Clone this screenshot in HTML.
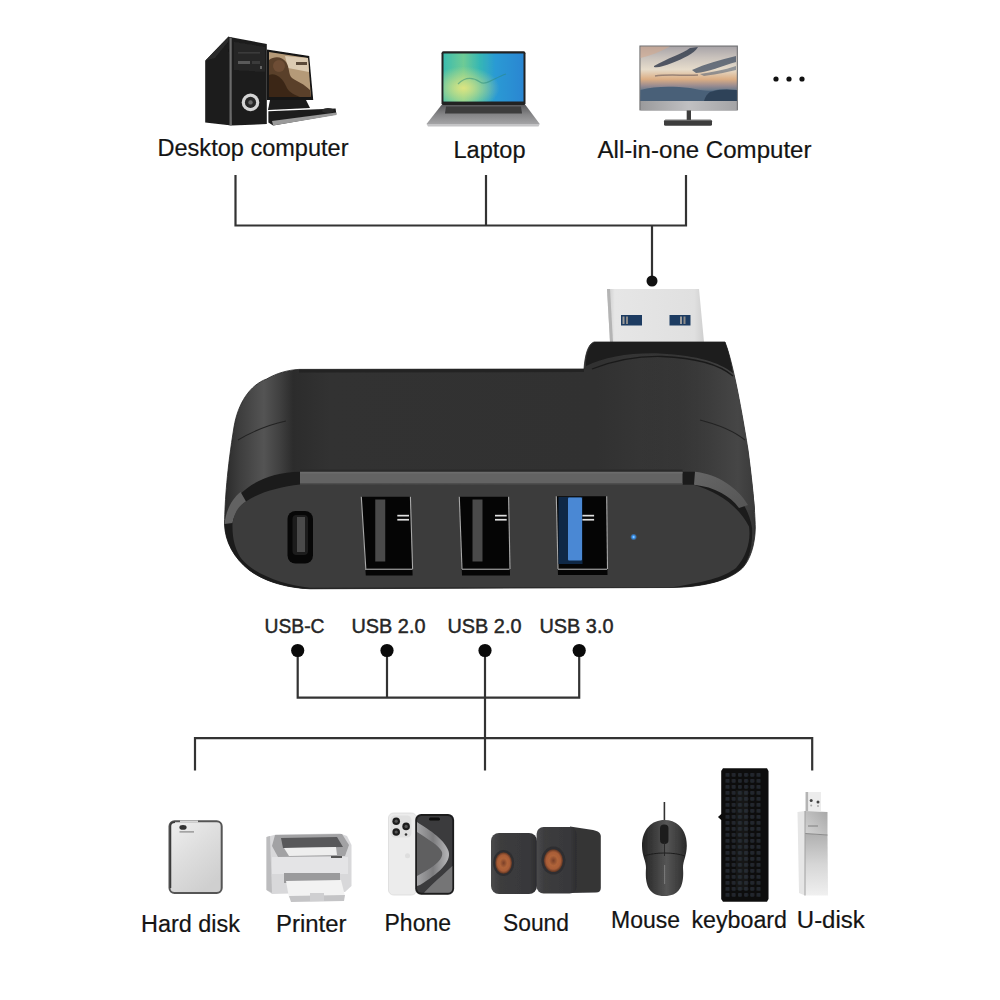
<!DOCTYPE html>
<html><head><meta charset="utf-8">
<style>
html,body{margin:0;padding:0;background:#fff;width:1000px;height:1000px;overflow:hidden}
svg{position:absolute;left:0;top:0;display:block}
text{font-family:"Liberation Sans",sans-serif}
</style></head>
<body>
<svg width="1000" height="1000" viewBox="0 0 1000 1000">
<defs>
  <filter id="soft" x="-5%" y="-5%" width="110%" height="110%"><feGaussianBlur stdDeviation="0.4"/></filter>
  <linearGradient id="topface" x1="224" y1="0" x2="755" y2="0" gradientUnits="userSpaceOnUse">
    <stop offset="0" stop-color="#2a2a2a"/>
    <stop offset="0.03" stop-color="#3e3e3e"/>
    <stop offset="0.075" stop-color="#545454"/>
    <stop offset="0.105" stop-color="#404040"/>
    <stop offset="0.13" stop-color="#2c2c2c"/>
    <stop offset="0.2" stop-color="#323232"/>
    <stop offset="0.7" stop-color="#313131"/>
    <stop offset="0.86" stop-color="#393939"/>
    <stop offset="0.96" stop-color="#4c4c4c"/>
    <stop offset="1" stop-color="#333"/>
  </linearGradient>
  <linearGradient id="plug" x1="0" y1="0" x2="1" y2="0">
    <stop offset="0" stop-color="#c8c8c8"/>
    <stop offset="0.08" stop-color="#e6e6e6"/>
    <stop offset="0.9" stop-color="#e0e0e0"/>
    <stop offset="1" stop-color="#cfcfcf"/>
  </linearGradient>
</defs>


<!-- ===== top devices ===== -->
<defs>
  <linearGradient id="dsScreen" x1="0" y1="0" x2="1" y2="0.4">
    <stop offset="0" stop-color="#3a2a1e"/>
    <stop offset="0.35" stop-color="#6b4e36"/>
    <stop offset="0.65" stop-color="#a88a6c"/>
    <stop offset="1" stop-color="#d9c6ac"/>
  </linearGradient>
  <linearGradient id="lapScreen" x1="0" y1="0" x2="1" y2="0">
    <stop offset="0" stop-color="#3cbcae"/>
    <stop offset="0.25" stop-color="#6ecb95"/>
    <stop offset="0.45" stop-color="#36b7b4"/>
    <stop offset="0.65" stop-color="#2a9ad4"/>
    <stop offset="1" stop-color="#2a86d2"/>
  </linearGradient>
  <radialGradient id="lapGlow" cx="0.25" cy="0.72" r="0.45">
    <stop offset="0" stop-color="#e2e680" stop-opacity="0.95"/>
    <stop offset="1" stop-color="#e2e680" stop-opacity="0"/>
  </radialGradient>
  <radialGradient id="dsGlow" cx="0.25" cy="0.55" r="0.45">
    <stop offset="0" stop-color="#2a1a10" stop-opacity="0.9"/>
    <stop offset="1" stop-color="#2a1a10" stop-opacity="0"/>
  </radialGradient>
  <linearGradient id="lapBase" x1="0" y1="0" x2="0" y2="1">
    <stop offset="0" stop-color="#5a5a5c"/>
    <stop offset="0.5" stop-color="#858587"/>
    <stop offset="1" stop-color="#a4a4a6"/>
  </linearGradient>
  <linearGradient id="aioScreen" x1="0" y1="0" x2="0" y2="1">
    <stop offset="0" stop-color="#a8a4a8"/>
    <stop offset="0.2" stop-color="#c9c2bc"/>
    <stop offset="0.42" stop-color="#e6dccb"/>
    <stop offset="0.6" stop-color="#dcae84"/>
    <stop offset="0.72" stop-color="#9a8c90"/>
    <stop offset="0.8" stop-color="#6a7a8c"/>
    <stop offset="1" stop-color="#4a6078"/>
  </linearGradient>
  <linearGradient id="aioChin" x1="0" y1="0" x2="1" y2="0">
    <stop offset="0" stop-color="#9a9a9c"/>
    <stop offset="0.5" stop-color="#c0c0c2"/>
    <stop offset="1" stop-color="#a4a4a6"/>
  </linearGradient>
</defs>
<g filter="url(#soft)">
<!-- desktop -->
<g>
  <polygon points="266.8,49.6 309.2,56 313.2,100 266.8,100" fill="#121212"/>
  <polygon points="269,52 308,58 311,97 269,97" fill="#b59a78"/>
  <polygon points="285,56 308,58 309,72 288,68" fill="#dccbb2"/>
  <path d="M269 60 C274 56 282 56 286 62 C290 68 288 74 292 78 C298 82 304 84 310 90 L311 97 L269 97 Z" fill="#5a3f2a"/>
  <path d="M269 75 C275 72 283 78 286 86 C288 91 292 94 300 97 L269 97 Z" fill="#3a2818"/>
  <circle cx="279" cy="66" r="6" fill="#6e4e34"/>
  <rect x="296" y="62" width="11" height="3" fill="#5a4838"/>
  <polygon points="270,100 306,100 310,108 268,110" fill="#1a1a1a"/>
  <polygon points="268.4,111.2 335.6,108.6 336.4,114.4 273.2,125.6 268.4,122.4" fill="#1e1e1e"/>
  <polygon points="272,121 336.4,112.5 336.4,115 273.2,125.6" fill="#9a9a9a"/>
  <ellipse cx="328" cy="110.5" rx="6" ry="2.6" fill="#2a2a2a"/>
  <polygon points="205.2,60.8 228.4,36.8 231.6,37.5 231.6,125.6 205.2,122.4" fill="#1a1a1a"/>
  <polygon points="205.2,60.8 228.4,36.8 231.6,37.5 215,58" fill="#2a2a2a"/>
  <polygon points="228.4,36.8 266.8,44 266.8,124 231.6,125.6" fill="#1e1e1e"/>
  <rect x="229.5" y="37.5" width="2.2" height="88" fill="#6a6a6a"/>
  <polygon points="234,42 265,47 265,72 234,70" fill="#262626"/>
  <rect x="238" y="61" width="12" height="3" fill="#5a5a5a"/>
  <rect x="252" y="61" width="8" height="3" fill="#3a3a3a"/>
  <rect x="238" y="52" width="22" height="1.5" fill="#3a3a3a"/>
  <rect x="260" y="66" width="2" height="3" fill="#666"/>
  <circle cx="250.5" cy="102.4" r="8.8" fill="#d4d4d4"/>
  <circle cx="250.5" cy="102.4" r="5.6" fill="#262626"/>
  <circle cx="250.5" cy="102.4" r="2.2" fill="#6a6a6a"/>
</g>
<!-- laptop -->
<g>
  <rect x="441.5" y="51.3" width="84" height="54" rx="2" fill="#202022"/>
  <rect x="443.5" y="53.5" width="80" height="48" fill="url(#lapScreen)"/>
  <rect x="443.5" y="53.5" width="80" height="48" fill="url(#lapGlow)"/>
  <path d="M458 84 C466 76 474 78 480 82 C486 86 494 78 506 74" stroke="#2a8a78" stroke-width="1.2" fill="none" opacity="0.5"/>
  <polygon points="441.5,105 525.5,105 539.75,124 426.5,124" fill="url(#lapBase)"/>
  <polygon points="446,106.5 521,106.5 522,113.5 445,113.5" fill="#3c3c3e"/>
  <polygon points="426.5,124 539.75,124 538.5,126.5 428,126.5" fill="#c4c4c6"/>
</g>
<!-- all in one -->
<g>
  <rect x="639.4" y="45.5" width="98.5" height="64.9" fill="#6e6e70"/>
  <rect x="640.5" y="46.6" width="96.3" height="54.4" fill="url(#aioScreen)"/>
  <path d="M640.5 46.6 H670 C660 52 650 56 640.5 58 Z" fill="#d2a88e" opacity="0.6"/>
  <path d="M654 66 C668 58 682 54 690 48 L698 47 C694 54 684 58 672 63 C664 66 658 68 654 67 Z" fill="#3a4252" opacity="0.85"/>
  <path d="M692 70 C705 64 720 60 736 56 V62 C722 66 708 72 696 73 Z" fill="#4a5668" opacity="0.8"/>
  <path d="M700 74 C712 72 724 70 736 66 V70 C724 73 712 75 704 76 Z" fill="#5a6676" opacity="0.6"/>
  <path d="M655 76 C668 74 685 76 698 75" stroke="#6a5a58" stroke-width="1.5" fill="none" opacity="0.6"/>
  <path d="M640.5 90 C655 86 672 86 690 88 C700 90 708 92 716 90 C724 89 730 90 736.8 91 V101 H640.5 Z" fill="#4a6078"/>
  <path d="M710 92 C718 89 728 89 736.8 90 V101 H704 C705 97 707 94 710 92 Z" fill="#2e4258"/>
  <rect x="640.5" y="101" width="96.3" height="9.4" fill="url(#aioChin)"/>
  <rect x="686.7" y="110.4" width="4.3" height="10" fill="#3e3e3e"/>
  <rect x="664" y="119.8" width="48" height="6" rx="1.5" fill="#3e3e3e"/>
  <rect x="665" y="119.8" width="46" height="1.2" fill="#6a6a6a"/>
</g>
</g>
<g fill="#111">
  <circle cx="776" cy="79" r="2.6"/>
  <circle cx="789" cy="79" r="2.6"/>
  <circle cx="802" cy="79" r="2.6"/>
</g>

<!-- top connector lines -->
<g stroke="#333" stroke-width="2.2" fill="none">
  <path d="M235.5 175 V225.5 H686 V175"/>
  <path d="M486 175 V225.5"/>
  <path d="M652 225.5 V281"/>
</g>
<circle cx="652" cy="281" r="5.5" fill="#111"/>

<!-- top labels -->
<g fill="#141414" font-size="23" stroke="#141414" stroke-width="0.2">
  <text x="157.5" y="155.5" textLength="191.0" lengthAdjust="spacingAndGlyphs">Desktop computer</text>
  <text x="453.5" y="158" textLength="72.0" lengthAdjust="spacingAndGlyphs">Laptop</text>
  <text x="597.5" y="158" textLength="214.0" lengthAdjust="spacingAndGlyphs">All-in-one Computer</text>
</g>

<!-- USB plug -->
<defs>
  <linearGradient id="capface" x1="0" y1="0" x2="1" y2="0">
    <stop offset="0" stop-color="#2a2a2a" stop-opacity="0"/>
    <stop offset="0.5" stop-color="#333" stop-opacity="0.5"/>
    <stop offset="0.85" stop-color="#464646" stop-opacity="1"/>
    <stop offset="1" stop-color="#3a3a3a" stop-opacity="1"/>
  </linearGradient>
  <linearGradient id="bandR" x1="0" y1="0" x2="1" y2="1">
    <stop offset="0" stop-color="#666"/>
    <stop offset="1" stop-color="#555"/>
  </linearGradient>
  <radialGradient id="led" cx="0.5" cy="0.5" r="0.5">
    <stop offset="0" stop-color="#bfe4ff"/>
    <stop offset="0.35" stop-color="#3c9cff"/>
    <stop offset="1" stop-color="#3c9cff" stop-opacity="0"/>
  </radialGradient>
</defs>
<path d="M607 289 L699 289 L704 342 L610 342 Z" fill="url(#plug)"/>
<path d="M607 289 L610 289 L613 342 L610 342 Z" fill="#b4b4b4"/>
<rect x="621" y="315" width="21" height="10.5" fill="#1d3c62"/>
<rect x="622.5" y="316.5" width="2" height="7.5" fill="#9c9c9c"/>
<rect x="626" y="316.5" width="2" height="7.5" fill="#8a8a8a"/>
<rect x="669.5" y="315" width="21" height="10.5" fill="#1d3c62"/>
<rect x="680" y="316.5" width="2" height="7.5" fill="#9c9c9c"/>
<rect x="683.5" y="316.5" width="2" height="7.5" fill="#8a8a8a"/>

<!-- hub body silhouette -->
<path d="M299 369.4 L584 369 C585 355 588 344 594 342 L725 342 C732 360 740 400 748 450 C752 480 755 510 755.3 528 C755 545 750 560 742.5 568 C730 580 705 587 672 587.5 L310 588.8 C288 588 265 582 249 570 C234 558 225 542 224.5 524 C225 500 227 470 234 427 C238 403 250 385 266.6 379 C277 373 288 370 299 369.4 Z" fill="url(#topface)" stroke="#222" stroke-width="0.8"/>
<!-- cap shading -->
<path d="M640 342 L725 342 C732 360 740 400 748 450 C752 480 754 500 755 510 L640 510 Z" fill="url(#capface)"/>
<path d="M586 362 C587 352 590 343 596 342 L725 342 C729 352 731 362 733 373 C718 362 700 356 660 353.5 C630 352.5 605 357 586 366 Z" fill="#1d1d1d"/>

<path d="M592 369 C615 360 640 356 662 356.5 C700 358 720 365 733 376" stroke="#1a1a1a" stroke-width="1.3" fill="none"/>
<path d="M700 420 C720 425 735 432 745 440" stroke="#232323" stroke-width="1.2" fill="none"/>
<path d="M238 440 C255 430 272 424 286 421" stroke="#222" stroke-width="1.1" fill="none"/>
<path d="M299 369.4 L584 369 L584 372 L299 372.5 Z" fill="#232323"/>

<!-- rim under front face -->
<path d="M300 471.7 L694 471.7 C725 478 748 500 752 528 C753 548 748 562 742 568 C728 581 705 587 672 587.5 L310 588.8 C288 588 265 582 249 570 C234 558 225 542 224.5 524 C226 500 255 472 300 471.7 Z" fill="#1b1b1b"/>
<rect x="300" y="469.5" width="382.5" height="2.4" fill="#2a2a2a"/>
<rect x="300" y="471.7" width="382.5" height="13" fill="#636363"/>
<rect x="300" y="472" width="382.5" height="1.5" fill="#6c6c6c"/>
<rect x="300" y="483.2" width="382.5" height="1.6" fill="#4a4a4a"/>
<path d="M695 471.7 C718 474 738 488 748 505 L739 508 C730 496 715 487 694 484.8 Z" fill="url(#bandR)"/>
<path d="M240.6 492 L246 501.4 C238 508 234 515 232.5 523 L224.6 524 C225 515 230 500 240.6 492 Z" fill="#626262"/>

<!-- front face -->
<path d="M300 484.6 L694 484.8 C720 492.8 739 507 749 526.5 C751 540 747 556 736 568 C725 576 712 581 672 587.3 L310 587.8 C285 585 255 575 242 559.5 C235 550 232 538 232.5 523 C235 510 240 505 246 501.4 C260 492 280 487 300 484.6 Z" fill="#3c3c3c"/>

<!-- USB-C port -->
<rect x="287.5" y="511" width="25.5" height="52.5" rx="8" fill="#070707"/>
<rect x="292.5" y="515" width="15.5" height="40" rx="4" fill="#1c1c1c"/>
<rect x="297" y="517" width="8" height="35" fill="#4a4a4a"/>

<!-- USB-A ports -->
<g>
  <path d="M361.3 496.75 L410.4 496.75 L412.6 575.5 L365.8 575.5 Z" fill="#050505"/>
  <path d="M361.3 496.75 L365.8 569" stroke="#a8a8a8" stroke-width="1.1"/>
  <path d="M410.4 496.75 L412.6 569" stroke="#a8a8a8" stroke-width="1.1"/>
  <rect x="375.25" y="499.5" width="10" height="62" fill="#4a4a4a"/>
  <rect x="397.3" y="514.8" width="11.7" height="1.7" fill="#e0e0e0"/>
  <rect x="397.3" y="518.9" width="11.7" height="1.7" fill="#e0e0e0"/>
  <rect x="365" y="568.6" width="47.5" height="1.4" fill="#8a8a8a"/>
</g>
<g>
  <path d="M459.3 496.75 L508.6 496.75 L510 575.5 L462 575.5 Z" fill="#050505"/>
  <path d="M459.3 496.75 L462 569" stroke="#a8a8a8" stroke-width="1.1"/>
  <path d="M508.6 496.75 L510 569" stroke="#a8a8a8" stroke-width="1.1"/>
  <rect x="472.5" y="499.5" width="10" height="62" fill="#4a4a4a"/>
  <rect x="495" y="514.8" width="11.7" height="1.7" fill="#e0e0e0"/>
  <rect x="495" y="518.9" width="11.7" height="1.7" fill="#e0e0e0"/>
  <rect x="462" y="568.6" width="47.5" height="1.4" fill="#8a8a8a"/>
</g>
<g>
  <path d="M556.3 496.3 L606.7 496.3 L607.5 575 L558 575 Z" fill="#050505"/>
  <path d="M556.3 496.3 L558 569" stroke="#a8a8a8" stroke-width="1.1"/>
  <path d="M606.7 496.3 L607.5 569" stroke="#a8a8a8" stroke-width="1.1"/>
  <rect x="558.5" y="497" width="24" height="67" fill="#0f2846"/>
  <rect x="568" y="497.6" width="14" height="63" rx="1" fill="#4a88d4"/>
  <rect x="582.4" y="514.8" width="11.7" height="1.7" fill="#e0e0e0"/>
  <rect x="582.4" y="518.9" width="11.7" height="1.7" fill="#e0e0e0"/>
  <rect x="558" y="568.6" width="49" height="1.4" fill="#8a8a8a"/>
</g>
<circle cx="633.6" cy="537" r="3.5" fill="url(#led)"/>

<!-- USB labels -->
<g fill="#262626" font-size="20.5" stroke="#262626" stroke-width="0.45">
  <text x="264.5" y="633" textLength="60.0" lengthAdjust="spacingAndGlyphs">USB-C</text>
  <text x="351.5" y="633" textLength="74.0" lengthAdjust="spacingAndGlyphs">USB 2.0</text>
  <text x="447.5" y="633" textLength="74.0" lengthAdjust="spacingAndGlyphs">USB 2.0</text>
  <text x="539.5" y="633" textLength="74.0" lengthAdjust="spacingAndGlyphs">USB 3.0</text>
</g>

<!-- lower connector lines -->
<g stroke="#333" stroke-width="2.2" fill="none">
  <path d="M297.7 650.5 V697.7 H579.2 V650.5"/>
  <path d="M387 650.5 V697.7"/>
  <path d="M485 650.5 V770.5"/>
  <path d="M195 770.5 V738.2 H812.2 V770.5"/>
</g>
<g fill="#0a0a0a">
  <circle cx="297.7" cy="650.5" r="6.6"/>
  <circle cx="387" cy="650.5" r="6.6"/>
  <circle cx="485" cy="650.5" r="6.6"/>
  <circle cx="579.2" cy="650.5" r="6.6"/>
</g>


<!-- ===== bottom devices ===== -->
<defs>
  <linearGradient id="hdd" x1="0" y1="0" x2="0.6" y2="1">
    <stop offset="0" stop-color="#efefef"/>
    <stop offset="0.5" stop-color="#dedede"/>
    <stop offset="1" stop-color="#cfcfcf"/>
  </linearGradient>
  <linearGradient id="phoneFront" x1="0" y1="0" x2="1" y2="0">
    <stop offset="0" stop-color="#3a3a3c"/>
    <stop offset="0.45" stop-color="#8e8e90"/>
    <stop offset="0.7" stop-color="#5a5a5c"/>
    <stop offset="1" stop-color="#3a3a3c"/>
  </linearGradient>
  <linearGradient id="udiskTop" x1="0" y1="0" x2="1" y2="0">
    <stop offset="0" stop-color="#e6e6e6"/>
    <stop offset="0.35" stop-color="#d4d4d4"/>
    <stop offset="1" stop-color="#bdbdbd"/>
  </linearGradient>
  <linearGradient id="udiskBot" x1="0" y1="0" x2="1" y2="0">
    <stop offset="0" stop-color="#d8d8d8"/>
    <stop offset="0.4" stop-color="#eeeeee"/>
    <stop offset="1" stop-color="#c4c4c4"/>
  </linearGradient>
  <radialGradient id="woofer" cx="0.5" cy="0.5" r="0.5">
    <stop offset="0" stop-color="#7a4028"/>
    <stop offset="0.45" stop-color="#b0643a"/>
    <stop offset="0.75" stop-color="#a85c36"/>
    <stop offset="1" stop-color="#5a3424"/>
  </radialGradient>
  <linearGradient id="spkFront" x1="0" y1="0" x2="1" y2="0">
    <stop offset="0" stop-color="#4a4a4c"/>
    <stop offset="0.2" stop-color="#3c3c3e"/>
    <stop offset="0.85" stop-color="#38383a"/>
    <stop offset="1" stop-color="#2c2c2e"/>
  </linearGradient>
  <linearGradient id="mouse" x1="0" y1="0" x2="1" y2="0">
    <stop offset="0" stop-color="#222"/>
    <stop offset="0.25" stop-color="#3a3a3a"/>
    <stop offset="0.55" stop-color="#555"/>
    <stop offset="0.85" stop-color="#3a3a3a"/>
    <stop offset="1" stop-color="#262626"/>
  </linearGradient>
  <pattern id="keys" x="724.5" y="772" width="6.2" height="6" patternUnits="userSpaceOnUse">
    <rect x="1" y="1" width="4" height="3.8" rx="0.8" fill="#23272e"/>
  </pattern>
</defs>
<g filter="url(#soft)">
<!-- hard disk -->
<rect x="169.5" y="821.3" width="52.2" height="71.7" rx="5" fill="url(#hdd)" stroke="#555" stroke-width="2"/>
<path d="M170.5 888 V826 C170.5 823 172 822.3 175 822.3" stroke="#3a3a3a" stroke-width="1.5" fill="none"/>
<ellipse cx="183" cy="827.4" rx="3.6" ry="2.3" fill="#333"/>
<rect x="179.5" y="831.3" width="14.5" height="1.2" fill="#888"/>
<rect x="180" y="820.5" width="18" height="2" fill="#d8d8d8"/>
<!-- printer -->
<g>
  <path d="M266.5 837 L276 834.5 L340 833.5 L347 836 L351.5 845 L351.5 886 L345 892 L272 894 L266.5 890 Z" fill="#d8d8da"/>
  <path d="M266.5 837 L270 836 L272 893 L266.5 890 Z" fill="#bcbcbe"/>
  <path d="M275 835 L342 834 L349 845 L345 856 L278 857 L272 846 Z" fill="#a2a2a4"/>
  <path d="M281 838 L337 837 L343 847 L283 848 Z" fill="#58585a"/>
  <path d="M284 848 L336 847 L337 855 L289 856 Z" fill="#eeeeee"/>
  <rect x="272" y="857" width="76" height="17" fill="#e4e4e6"/>
  <rect x="331" y="856" width="11" height="2" fill="#555"/>
  <rect x="284" y="873" width="56" height="10" fill="#9a9a9c"/>
  <path d="M286 881 L341 880 L345 896 L289 898 Z" fill="#f2f2f2"/>
  <path d="M289 896 L345 895 L344 901 L291 902 Z" fill="#c4c4c6"/>
  <rect x="310" y="893" width="14" height="8" fill="#cfcfd1"/>
</g>
<!-- phone -->
<defs>
  <linearGradient id="phRib" x1="0" y1="0" x2="1" y2="0">
    <stop offset="0" stop-color="#a4a4a6"/>
    <stop offset="0.5" stop-color="#7c7c7e"/>
    <stop offset="1" stop-color="#b8b8ba"/>
  </linearGradient>
</defs>
<g>
  <rect x="388.5" y="813" width="28" height="82" rx="5" fill="#ececec" stroke="#dadada" stroke-width="0.8"/>
  <rect x="390.5" y="815.5" width="21" height="22" rx="4.5" fill="#e0e0e0"/>
  <circle cx="396.2" cy="821.2" r="3.8" fill="#1e1e1e"/>
  <circle cx="406.1" cy="826.4" r="3.8" fill="#1e1e1e"/>
  <circle cx="396.2" cy="832" r="3.8" fill="#1e1e1e"/>
  <circle cx="396.2" cy="821.2" r="1.6" fill="#555"/>
  <circle cx="406.1" cy="826.4" r="1.6" fill="#555"/>
  <circle cx="396.2" cy="832" r="1.6" fill="#555"/>
  <circle cx="406" cy="834.5" r="1.3" fill="#333"/>
  <circle cx="407.5" cy="855.8" r="2.5" fill="#dedede"/>
  <rect x="415.2" y="814" width="38.9" height="80.8" rx="6" fill="#1c1c1e"/>
  <rect x="417" y="816" width="35.3" height="76.8" rx="4.5" fill="#3a3a3c"/>
  <path d="M417 822 C426 828 444 838 448.5 851 C452 862 438 874 420 885 L417 886 Z" fill="url(#phRib)"/>
  <path d="M417 832 C426 838 440 846 442 852 C444 860 432 868 417 876 Z" fill="#5e5e60"/>
  <path d="M452.3 866 C444 874 432 884 424 892.8 L448 892.8 C451 892.8 452.3 891 452.3 888 Z" fill="#747476"/>
  <rect x="429" y="817.5" width="11" height="3" rx="1.5" fill="#0a0a0a"/>
</g>
<!-- speakers -->
<g>
  <rect x="491" y="833" width="46" height="61" rx="8" fill="url(#spkFront)"/>
  <path d="M570 826.4 L593 830 C598 831 600.8 833 600.8 836 L600.8 888 C600.8 891 599 892.5 596 892.5 L570 893 Z" fill="#343436"/>
  <rect x="536.6" y="827" width="40" height="66.5" rx="7" fill="url(#spkFront)"/>
  <ellipse cx="503.6" cy="863" rx="10.5" ry="13" fill="#2e2e30"/>
  <ellipse cx="503.6" cy="863" rx="8.4" ry="10.8" fill="url(#woofer)"/>
  <ellipse cx="553.4" cy="860.6" rx="12" ry="14" fill="#2e2e30"/>
  <ellipse cx="553.4" cy="860.6" rx="9.6" ry="11.4" fill="url(#woofer)"/>
</g>
<!-- mouse -->
<g>
  <path d="M664.4 802 V821" stroke="#333" stroke-width="1.6"/>
  <path d="M664.5 820 C677 820 687 829 686.8 846 C686.6 856 683 861 683 868 C684 882 682 896 664.5 896 C647 896 645 882 646 868 C646 861 642 856 642 846 C642 829 652 820 664.5 820 Z" fill="url(#mouse)"/>
  <rect x="660" y="824.5" width="8.5" height="19.5" rx="4" fill="#1e1e1e"/>
  <rect x="664" y="865" width="1.2" height="19" fill="#888" opacity="0.7"/>
  <path d="M644 856 C655 852 674 852 685 856" stroke="#1e1e1e" stroke-width="1" fill="none"/>
  <path d="M664.5 842 V856" stroke="#222" stroke-width="0.8"/>
</g>
<!-- keyboard -->
<g>
  <path d="M723 768.2 H767 L768.5 771 V899 L767 901.7 H723 L721.2 899 V820 L718 817 L721.2 814 V771 Z" fill="#0c0c0c"/>
  <rect x="724.5" y="772" width="37.5" height="126" fill="url(#keys)"/>
  <rect x="736" y="790" width="12" height="100" fill="#2a3a40" opacity="0.25"/>
</g>
<!-- u-disk -->
<defs>
  <linearGradient id="udTop" x1="0" y1="1" x2="1" y2="0">
    <stop offset="0" stop-color="#d4d4d4"/>
    <stop offset="1" stop-color="#a8a8a8"/>
  </linearGradient>
  <linearGradient id="udBot" x1="0" y1="0" x2="0" y2="1">
    <stop offset="0" stop-color="#b0b0b0"/>
    <stop offset="0.5" stop-color="#d6d6d6"/>
    <stop offset="1" stop-color="#f0f0f0"/>
  </linearGradient>
</defs>
<g>
  <rect x="805.6" y="792" width="15.4" height="19" fill="#ececec"/>
  <rect x="805.6" y="792" width="2.5" height="19" fill="#b4b4b4"/>
  <circle cx="811.2" cy="800.6" r="1.5" fill="#444"/>
  <circle cx="818" cy="801.9" r="1.5" fill="#444"/>
  <circle cx="811.2" cy="805.5" r="1" fill="#aaa"/>
  <circle cx="818" cy="806" r="1" fill="#aaa"/>
  <path d="M797.5 812 L805 811 L805 895.5 L799 893 Z" fill="#e6e6e6"/>
  <path d="M805 811 L827.5 812 L827.5 835 L805 833.5 Z" fill="url(#udTop)"/>
  <path d="M805 833.5 L827.5 835 L828 895.5 L805 895.5 Z" fill="url(#udBot)"/>
  <path d="M805 833.5 L827.5 835" stroke="#8a8a8a" stroke-width="1"/>
  <rect x="804.5" y="811" width="1" height="84.5" fill="#a0a0a0"/>
  <rect x="808" y="825" width="10" height="2" fill="#8a8a8a" opacity="0.6"/>
</g>
</g>
<!-- bottom labels -->
<g fill="#141414" font-size="23" stroke="#141414" stroke-width="0.2">
  <text x="141.0" y="931.5" textLength="99.0" lengthAdjust="spacingAndGlyphs">Hard disk</text>
  <text x="276.0" y="931.5" textLength="70.5" lengthAdjust="spacingAndGlyphs">Printer</text>
  <text x="384.5" y="931" textLength="66.5" lengthAdjust="spacingAndGlyphs">Phone</text>
  <text x="503.0" y="931" textLength="66.0" lengthAdjust="spacingAndGlyphs">Sound</text>
  <text x="611.1" y="928" textLength="69.0" lengthAdjust="spacingAndGlyphs">Mouse</text>
  <text x="691.5" y="928" textLength="95.5" lengthAdjust="spacingAndGlyphs">keyboard</text>
  <text x="796.8" y="928" textLength="68.0" lengthAdjust="spacingAndGlyphs">U-disk</text>
</g>

</svg>
</body></html>
